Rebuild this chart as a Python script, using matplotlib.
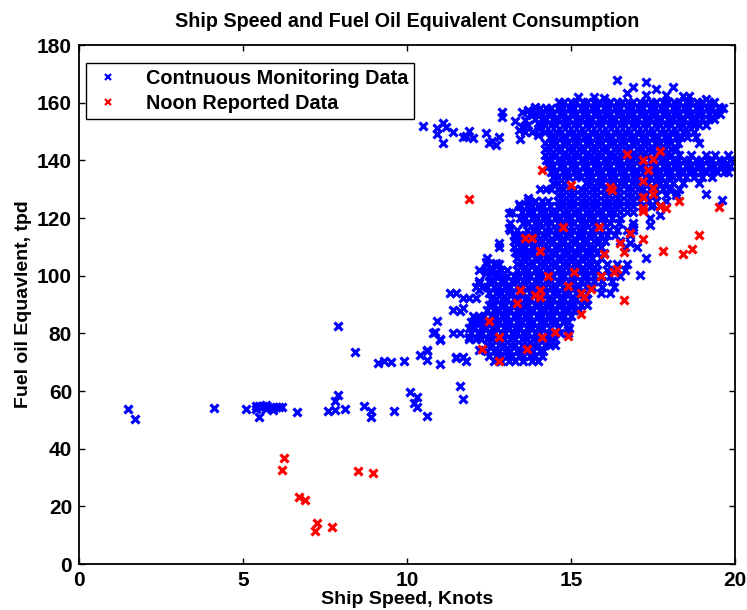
import numpy as np
import matplotlib
matplotlib.use('Agg')
import matplotlib.pyplot as plt
from matplotlib.lines import Line2D

plt.rcParams['font.family'] = ['Liberation Sans', 'DejaVu Sans']
plt.rcParams['font.weight'] = 'bold'

# Continuous monitoring: scattered readings (speed knots, fuel tpd)
cm_sparse = [
    (1.5, 53.8), (1.7, 50.3), (4.1, 54.1), (5.1, 53.8), (5.4, 54.8), (5.4, 53.8),
    (5.5, 54.8), (5.5, 51.0), (5.6, 54.8), (5.7, 55.2), (5.7, 53.8), (5.9, 54.5),
    (5.9, 53.4), (6.0, 54.5), (6.1, 54.5), (6.2, 54.5), (6.65, 52.7), (7.6, 53.2),
    (7.8, 56.5), (7.9, 58.6), (7.8, 53.4), (8.1, 53.8), (8.4, 73.5), (8.7, 54.8),
    (8.9, 53.1), (8.9, 51.0), (9.1, 69.7), (9.3, 70.4), (9.5, 70.1), (9.9, 70.4),
    (9.6, 53.1), (10.1, 59.7), (10.2, 55.8), (10.3, 57.9), (10.3, 54.5), (10.6, 51.3),
    (10.4, 72.5), (10.6, 73.9), (10.6, 70.8), (11.0, 69.4), (11.0, 78.0), (10.8, 80.1),
    (11.5, 71.5), (11.6, 61.6), (11.7, 57.4), (7.9, 82.7),
    (11.3, 94.0), (11.5, 94.0), (11.7, 92.3), (11.9, 92.3), (12.1, 92.3), (11.4, 88.1),
    (11.6, 87.8), (11.7, 88.8), (10.9, 84.3), (10.85, 80.5), (11.0, 77.7), (11.4, 80.1),
    (11.6, 80.1), (11.9, 78.7), (12.0, 83.6), (12.2, 84.6), (12.2, 80.5), (10.6, 74.2),
    (11.5, 71.8), (11.7, 71.8), (11.8, 70.4), (12.2, 74.2), (12.2, 95.0), (12.2, 97.5),
    (12.4, 100.9),
    (10.5, 151.9), (10.9, 151.2), (11.1, 153.0), (10.9, 149.2), (11.2, 151.6), (11.1, 146.0),
    (11.4, 149.8), (11.7, 148.1), (11.9, 150.2), (11.8, 148.5), (12.0, 147.8), (12.4, 149.5),
    (12.5, 146.0), (12.7, 145.3), (12.6, 146.7), (12.8, 148.1), (12.9, 156.8), (12.9, 155.0),
    (13.3, 153.7), (13.5, 156.8), (13.4, 150.5), (13.6, 149.8), (13.9, 158.5), (13.8, 155.7),
    (13.7, 152.3), (14.0, 148.8), (14.05, 151.2), (13.6, 154.0), (13.5, 151.5), (13.8, 150.0),
    (13.7, 157.5), (14.0, 153.0), (13.45, 147.5),
    (13.7, 127.0), (13.4, 124.9), (13.1, 121.8), (13.1, 116.5), (13.3, 113.4), (12.8, 111.3),
    (13.3, 108.2), (12.4, 104.8), (12.7, 104.4), (12.7, 101.3), (13.5, 110.6), (13.6, 108.2),
    (18.2, 129.0), (19.1, 128.3), (19.6, 126.3), (16.9, 117.0), (17.4, 117.6), (17.7, 121.0),
    (17.5, 124.5), (17.1, 100.2), (16.8, 111.3), (14.9, 81.2),
    (16.4, 167.9), (17.3, 167.2), (17.6, 164.8), (18.1, 165.4), (16.9, 165.4), (16.7, 163.4),
    (17.3, 162.7), (17.9, 162.7), (18.4, 162.3), (18.6, 162.3), (15.2, 161.8), (15.7, 162.0),
    (16.0, 161.5), (19.1, 161.2), (19.5, 158.6),
]

# Continuous monitoring: dense band, one list of speeds per fuel level
cm_rows = [
    (160.3, [14.62, 14.8, 15.0, 15.15, 15.35, 15.5, 15.7, 15.85, 16.05, 16.2, 16.4, 16.55,
             16.75, 16.9, 17.1, 17.25, 17.45, 17.6, 17.8, 17.95, 18.15, 18.3, 18.5, 18.65,
             18.85, 19.0, 19.2, 19.35]),
    (158.2, [14.05, 14.25, 14.4, 14.6, 14.75, 14.95, 15.1, 15.3, 15.45, 15.65, 15.8, 16.0,
             16.15, 16.35, 16.5, 16.7, 16.85, 17.05, 17.2, 17.4, 17.55, 17.75, 17.9, 18.1,
             18.25, 18.45, 18.6, 18.8, 18.95, 19.15, 19.3, 19.5, 19.62]),
    (156.1, [13.75, 13.95, 14.1, 14.3, 14.45, 14.65, 14.8, 15.0, 15.15, 15.35, 15.5, 15.7,
             15.85, 16.05, 16.2, 16.4, 16.55, 16.75, 16.9, 17.1, 17.25, 17.45, 17.6, 17.8,
             17.95, 18.15, 18.3, 18.5, 18.65, 18.85, 19.0, 19.2, 19.4, 19.55]),
    (154.2, [13.9, 14.1, 14.25, 14.45, 14.6, 14.8, 14.95, 15.15, 15.3, 15.5, 15.65, 15.85,
             16.0, 16.2, 16.35, 16.55, 16.7, 16.9, 17.05, 17.25, 17.4, 17.6, 17.75, 17.95,
             18.1, 18.3, 18.45, 18.65, 18.8, 19.0, 19.2, 19.35]),
    (152.1, [14.05, 14.2, 14.4, 14.55, 14.75, 14.9, 15.1, 15.25, 15.45, 15.6, 15.8, 15.95,
             16.15, 16.3, 16.5, 16.65, 16.85, 17.0, 17.2, 17.35, 17.55, 17.7, 17.9, 18.05,
             18.25, 18.4, 18.6, 18.75, 18.9, 19.1]),
    (150.0, [14.2, 14.35, 14.55, 14.7, 14.9, 15.05, 15.25, 15.4, 15.6, 15.75, 15.95, 16.1,
             16.3, 16.45, 16.65, 16.8, 17.0, 17.15, 17.35, 17.5, 17.7, 17.85, 18.05, 18.2,
             18.4, 18.55, 18.75]),
    (148.1, [14.35, 14.5, 14.7, 14.85, 15.05, 15.2, 15.4, 15.55, 15.75, 15.9, 16.1, 16.25,
             16.45, 16.6, 16.8, 16.95, 17.15, 17.3, 17.5, 17.65, 17.85, 18.0, 18.2, 18.35,
             18.55, 18.8]),
    (146.0, [14.2, 14.4, 14.55, 14.75, 14.9, 15.1, 15.25, 15.45, 15.6, 15.8, 15.95, 16.15,
             16.3, 16.5, 16.65, 16.85, 17.0, 17.2, 17.35, 17.55, 17.7, 17.9, 18.05, 18.25,
             18.9]),
    (144.1, [14.2, 14.35, 14.55, 14.7, 14.9, 15.05, 15.25, 15.4, 15.6, 15.75, 15.95, 16.1,
             16.3, 16.45, 16.65, 16.8, 17.0, 17.15, 17.35, 17.5, 17.7, 17.85, 18.05, 18.2]),
    (142.0, [14.2, 14.4, 14.55, 14.75, 14.9, 15.1, 15.25, 15.45, 15.6, 15.8, 15.95, 16.15,
             16.3, 16.5, 16.65, 16.85, 17.0, 17.2, 17.35, 17.55, 17.7, 17.9, 18.05, 18.3,
             18.65, 19.1, 19.4, 19.8]),
    (140.1, [14.25, 14.4, 14.6, 14.75, 14.95, 15.1, 15.3, 15.45, 15.65, 15.8, 16.0, 16.15,
             16.35, 16.5, 16.7, 16.85, 17.05, 17.2, 17.4, 17.55, 17.75, 17.9, 18.1, 18.25,
             18.45, 18.6, 18.8, 18.95, 19.15, 19.3, 19.5, 19.65, 19.85]),
    (138.0, [14.3, 14.45, 14.65, 14.8, 15.0, 15.15, 15.35, 15.5, 15.7, 15.85, 16.05, 16.2,
             16.4, 16.55, 16.75, 16.9, 17.1, 17.25, 17.45, 17.6, 17.8, 17.95, 18.15, 18.3,
             18.5, 18.65, 18.85, 19.0, 19.2, 19.35, 19.55, 19.7, 19.85]),
    (136.0, [14.4, 14.55, 14.75, 14.9, 15.1, 15.25, 15.45, 15.6, 15.8, 15.95, 16.15, 16.3,
             16.5, 16.65, 16.85, 17.0, 17.2, 17.35, 17.55, 17.7, 17.9, 18.05, 18.25, 18.4,
             18.6, 18.75, 18.95, 19.1, 19.3, 19.45, 19.65, 19.8]),
    (134.1, [14.45, 14.6, 14.8, 14.95, 15.15, 15.3, 15.5, 15.65, 15.85, 16.0, 16.2, 16.35,
             16.55, 16.7, 16.9, 17.05, 17.25, 17.4, 17.6, 17.75, 17.95, 18.1, 18.3, 18.5,
             18.75, 19.0, 19.3]),
    (132.0, [14.45, 14.6, 14.8, 15.45, 15.6, 15.8, 15.95, 16.15, 16.3, 16.5, 16.65, 16.85,
             17.0, 17.2, 17.35, 17.55, 17.7, 17.9, 18.1, 18.4, 18.9]),
    (130.0, [14.05, 14.25, 14.4, 14.6, 14.75, 14.95, 15.1, 15.3, 15.45, 15.65, 15.8, 16.0,
             16.15, 16.35, 16.5, 16.7, 16.85, 17.05, 17.2, 17.4, 17.6, 17.8, 18.0, 18.3]),
    (128.0, [14.6, 14.75, 14.95, 15.1, 15.3, 15.45, 15.65, 15.8, 16.0, 16.15, 16.35, 16.5,
             16.7, 16.85, 17.05, 17.3, 17.6, 17.9, 18.2]),
    (126.0, [13.7, 13.9, 14.1, 14.3, 14.6, 14.75, 14.95, 15.1, 15.3, 15.45, 15.65, 15.8,
             16.0, 16.15, 16.35, 16.5, 16.7, 16.9, 17.1, 17.35, 17.6, 17.9]),
    (124.1, [13.45, 13.65, 13.8, 14.0, 14.15, 14.35, 14.6, 14.75, 14.95, 15.1, 15.3, 15.45,
             15.65, 15.8, 16.0, 16.15, 16.35, 16.5, 16.7, 16.9, 17.15, 17.45, 17.7]),
    (122.0, [13.2, 13.5, 13.7, 13.85, 14.05, 14.2, 14.4, 14.55, 14.75, 14.9, 15.1, 15.25,
             15.45, 15.6, 15.8, 15.95, 16.15, 16.3, 16.5, 16.7, 16.9]),
    (120.0, [13.45, 13.6, 13.8, 13.95, 14.15, 14.3, 14.5, 14.65, 14.85, 15.0, 15.2, 15.35,
             15.55, 15.7, 15.9, 16.05, 16.25, 16.5, 17.4]),
    (118.1, [13.15, 13.55, 13.7, 13.9, 14.05, 14.25, 14.4, 14.6, 14.75, 14.95, 15.1, 15.3,
             15.45, 15.65, 15.8, 16.0, 16.2, 16.45, 16.9]),
    (116.0, [13.15, 13.35, 13.65, 13.85, 14.0, 14.2, 14.35, 14.55, 14.7, 14.9, 15.05, 15.25,
             15.4, 15.6, 15.75, 15.95, 16.15, 16.4, 16.7, 16.9]),
    (114.0, [13.25, 13.45, 13.6, 13.8, 13.95, 14.15, 14.3, 14.5, 14.65, 14.85, 15.0, 15.2,
             15.35, 15.55, 15.7, 15.9, 16.1, 16.35, 16.8]),
    (112.1, [13.25, 13.4, 13.6, 13.75, 13.95, 14.1, 14.3, 14.45, 14.65, 14.8, 15.0, 15.15,
             15.35, 15.5, 15.7, 15.85, 16.05, 16.5]),
    (110.0, [12.8, 13.25, 13.45, 13.6, 13.8, 13.95, 14.15, 14.3, 14.5, 14.65, 14.85, 15.0,
             15.2, 15.35, 15.55, 15.7, 15.9, 16.65, 17.0]),
    (108.0, [13.35, 13.5, 13.7, 13.85, 14.05, 14.2, 14.4, 14.55, 14.75, 14.9, 15.1, 15.25,
             15.45, 15.6, 15.8, 16.0]),
    (106.0, [12.45, 13.35, 13.55, 13.7, 13.9, 14.05, 14.25, 14.4, 14.6, 14.75, 14.95, 15.1,
             15.3, 15.45, 15.65, 15.9, 17.3]),
    (104.0, [12.45, 12.65, 12.8, 13.35, 13.5, 13.7, 13.85, 14.05, 14.2, 14.4, 14.55, 14.75,
             14.9, 15.1, 15.25, 15.45, 15.6, 15.8, 16.1, 16.4, 16.7]),
    (102.0, [12.2, 12.4, 12.6, 12.85, 13.05, 13.35, 13.55, 13.7, 13.9, 14.05, 14.25, 14.4,
             14.6, 14.75, 14.95, 15.1, 15.3, 15.45, 15.65, 15.8, 16.1, 16.35, 16.65]),
    (100.0, [12.5, 12.7, 12.9, 13.05, 13.25, 13.4, 13.6, 13.75, 13.95, 14.1, 14.3, 14.45,
             14.65, 14.8, 15.0, 15.15, 15.35, 15.5, 15.7, 15.9, 16.2, 16.5]),
    (98.0, [12.2, 12.5, 12.65, 12.85, 13.0, 13.2, 13.35, 13.55, 13.7, 13.9, 14.05, 14.25,
            14.4, 14.6, 14.75, 14.95, 15.1, 15.3, 15.5, 15.7, 15.95, 16.25]),
    (96.0, [12.1, 12.3, 12.45, 12.65, 12.8, 13.0, 13.15, 13.35, 13.5, 13.7, 13.85, 14.05,
            14.2, 14.4, 14.55, 14.75, 14.9, 15.1, 15.25, 15.45, 15.65, 15.95, 16.3]),
    (94.0, [12.5, 12.7, 12.85, 13.05, 13.2, 13.4, 13.55, 13.75, 13.9, 14.1, 14.25, 14.45,
            14.6, 14.8, 14.95, 15.15, 15.3, 15.5, 15.9, 16.2]),
    (92.0, [12.55, 12.7, 12.9, 13.05, 13.25, 13.4, 13.6, 13.75, 13.95, 14.1, 14.3, 14.45,
            14.65, 14.8, 15.0, 15.15, 15.35, 15.5]),
    (90.0, [12.5, 12.65, 12.85, 13.0, 13.2, 13.35, 13.55, 13.7, 13.9, 14.05, 14.25, 14.4,
            14.6, 14.75, 14.95, 15.1, 15.3, 15.5]),
    (88.0, [12.45, 12.65, 12.8, 13.0, 13.15, 13.35, 13.5, 13.7, 13.85, 14.05, 14.2, 14.4,
            14.55, 14.75, 14.9, 15.1, 15.25]),
    (86.0, [12.0, 12.2, 12.35, 12.55, 12.7, 12.9, 13.05, 13.25, 13.4, 13.6, 13.75, 13.95,
            14.1, 14.3, 14.45, 14.65, 14.8, 15.0]),
    (84.0, [11.95, 12.1, 12.3, 12.45, 12.65, 12.8, 13.0, 13.15, 13.35, 13.5, 13.7, 13.85,
            14.05, 14.2, 14.4, 14.55, 14.75, 14.9]),
    (82.0, [11.9, 12.05, 12.25, 12.4, 12.6, 12.75, 12.95, 13.1, 13.3, 13.45, 13.65, 13.8,
            14.0, 14.15, 14.35, 14.6, 14.95]),
    (80.0, [11.95, 12.15, 12.3, 12.5, 12.65, 12.85, 13.0, 13.2, 13.35, 13.55, 13.7, 13.9,
            14.05, 14.25, 14.4, 14.65, 14.9]),
    (78.0, [11.9, 12.1, 12.25, 12.45, 12.6, 12.8, 12.95, 13.15, 13.3, 13.5, 13.65, 13.85,
            14.0, 14.2, 14.35, 14.5]),
    (76.0, [12.45, 12.6, 12.8, 12.95, 13.15, 13.3, 13.5, 13.65, 13.85, 14.0, 14.2, 14.35,
            14.5]),
    (74.0, [12.45, 12.65, 12.8, 13.0, 13.15, 13.35, 13.5, 13.7, 13.85, 14.05, 14.15]),
    (72.0, [12.5, 12.7, 12.85, 13.05, 13.2, 13.4, 13.55, 13.75, 13.9, 14.1]),
    (70.3, [12.65, 12.85, 13.1, 13.3, 13.55, 13.8, 14.0]),
]

# Noon reports
noon_speed = [6.25, 6.2, 6.7, 6.9, 7.25, 7.2, 7.7, 8.5, 8.95,
              11.9, 14.1, 15.0, 16.2, 16.25, 16.7, 17.2, 17.5, 17.7, 17.35, 17.2,
              17.5, 17.5, 17.2, 17.2, 17.2, 17.7, 17.9, 18.3, 19.5, 14.75,
              15.85, 16.8, 17.2, 18.9, 13.6, 13.8, 16.5, 16.6, 16.0, 17.8,
              18.4, 18.7, 14.05, 16.4, 16.3, 15.1, 14.3, 15.9, 14.9, 13.45,
              14.05, 13.9, 14.05, 15.3, 15.4, 15.6, 13.35, 16.6, 15.3, 12.5,
              12.8, 14.1, 14.5, 14.9, 12.3, 13.65, 12.8]
noon_fuel = [36.8, 32.6, 23.2, 22.2, 14.2, 11.4, 12.8, 32.3, 31.5,
             126.6, 136.7, 131.4, 130.8, 129.7, 142.2, 140.1, 140.5, 143.3, 136.7, 132.8,
             130.4, 128.3, 127.3, 123.5, 122.4, 124.2, 123.5, 125.9, 123.8, 116.9,
             116.9, 114.8, 112.7, 114.1, 113.1, 113.1, 111.3, 108.2, 107.5, 108.6,
             107.5, 109.3, 108.6, 102.3, 101.3, 101.3, 99.9, 99.9, 96.4, 95.0,
             95.0, 93.3, 92.6, 94.0, 92.6, 95.4, 90.5, 91.6, 86.7, 84.3,
             78.7, 78.7, 80.5, 79.1, 74.6, 74.6, 70.4]

cm_speed = [p[0] for p in cm_sparse] + [s for f, ss in cm_rows for s in ss]
cm_fuel = [p[1] for p in cm_sparse] + [f for f, ss in cm_rows for s in ss]

fig = plt.figure(figsize=(7.47, 6.10), dpi=100)
ax = fig.add_axes([0.1058, 0.0754, 0.8782, 0.8508])

mk = dict(linestyle='none', marker='x', markersize=5.4, markeredgewidth=2.3)
ax.plot(cm_speed, cm_fuel, color='b', **mk)
ax.plot(noon_speed, noon_fuel, color='r', **mk)

ax.set_xlim(0, 20)
ax.set_ylim(0, 180)
ax.set_xticks([0, 5, 10, 15, 20])
ax.set_yticks(range(0, 181, 20))
ax.tick_params(direction='in', top=True, right=True, length=4, width=1,
               labelsize=15, pad=5)
for lab in ax.get_xticklabels() + ax.get_yticklabels():
    lab.set_fontweight('bold')
for sp in ax.spines.values():
    sp.set_linewidth(1.3)

ax.set_title('Ship Speed and Fuel Oil Equivalent Consumption',
             fontsize=14.2, fontweight='bold', pad=13)
ax.set_xlabel('Ship Speed, Knots', fontsize=14, fontweight='bold', labelpad=1)
ax.set_ylabel('Fuel oil Equavlent, tpd', fontsize=14, fontweight='bold', labelpad=4)

# small markers for the legend keys
key = dict(linestyle='none', marker='x', markersize=4, markeredgewidth=1.6)
handles = [Line2D([], [], color='b', **key), Line2D([], [], color='r', **key)]
leg = ax.legend(handles, ['Contnuous Monitoring Data', 'Noon Reported Data'],
                loc='upper left', bbox_to_anchor=(0.0107, 0.965), borderaxespad=0,
                fancybox=False, framealpha=1, edgecolor='k',
                prop={'weight': 'bold', 'size': 14.3}, handlelength=1.6,
                handletextpad=1.1, borderpad=0.3, labelspacing=0.3)
leg.get_frame().set_linewidth(1.0)

plt.savefig('out.png', dpi=100)
